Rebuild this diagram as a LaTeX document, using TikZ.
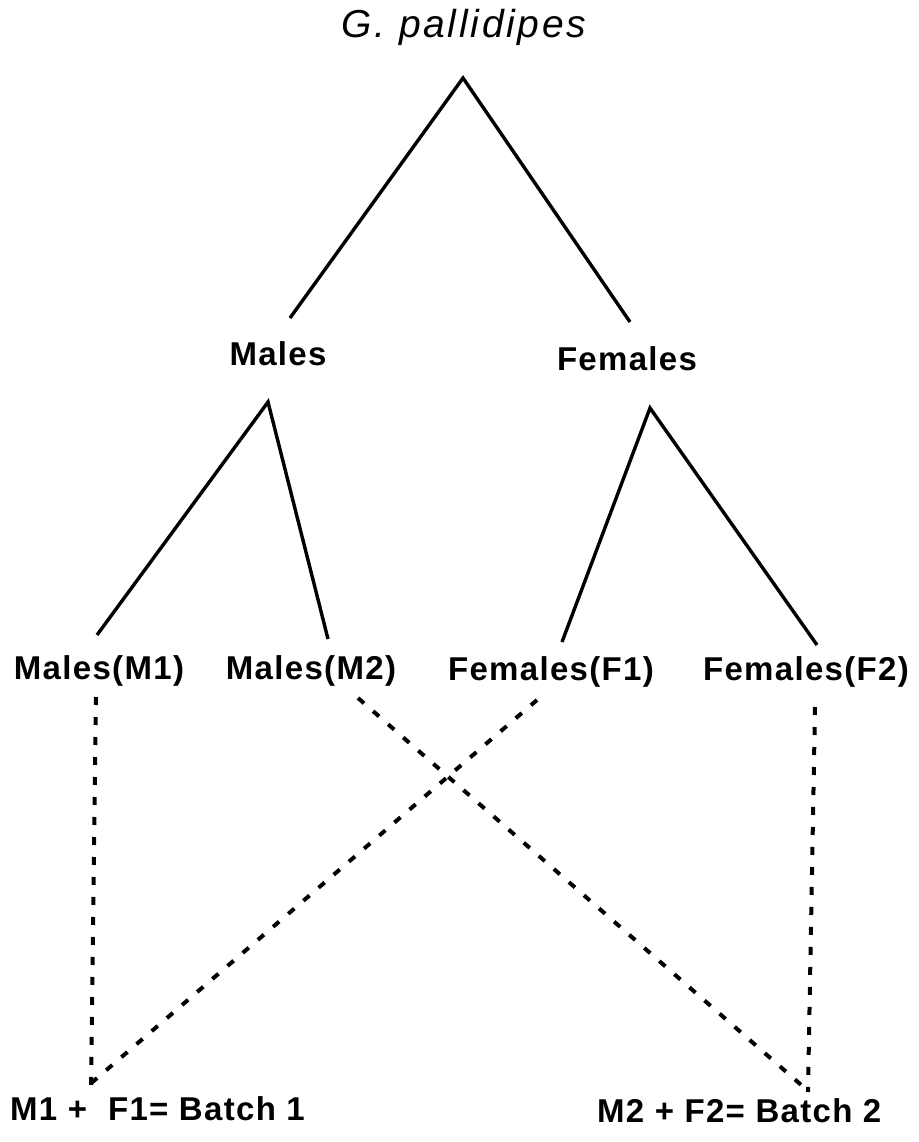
\documentclass[tikz,border=0pt]{standalone}
\usepackage{fontspec}
\setmainfont{Liberation Sans}
\newfontfamily\titlefont[LetterSpace=7]{Liberation Sans}
\newfontfamily\labelfont[LetterSpace=4]{Liberation Sans}
\begin{document}
\begin{tikzpicture}[x=1pt,y=-1pt,
  lbl/.style={inner sep=0pt,anchor=base,font=\labelfont\bfseries\fontsize{33}{38}\selectfont},
  ttl/.style={inner sep=0pt,anchor=base,font=\titlefont\itshape\fontsize{39}{44}\selectfont},
  branch/.style={line width=3.4pt},
  pair/.style={line width=4pt,dash pattern=on 8pt off 12pt}]
\useasboundingbox (0,0) rectangle (918,1142);

% labels
\node[ttl] (title) at (464,38) {G. pallidipes};
\node[lbl] (males) at (278,365) {Males};
\node[lbl] (females) at (627,370) {Females};
\node[lbl] (m1) at (99,679) {Males(M1)};
\node[lbl] (m2) at (311,679) {Males(M2)};
\node[lbl] (f1) at (551,680) {Females(F1)};
\node[lbl] (f2) at (806,680) {Females(F2)};
\node[lbl,anchor=base west] (b1) at (10,1120) {M1 +\ \ F1= Batch 1};
\node[lbl,anchor=base west] (b2) at (597,1122) {M2 + F2= Batch 2};

% branch end points
\coordinate (top) at (463,78);
\coordinate (topL) at (290,318);
\coordinate (topR) at (630,322);
\coordinate (mTop) at (268,402);
\coordinate (mL) at (97,635);
\coordinate (mR) at (328,639);
\coordinate (fTop) at (650,408);
\coordinate (fL) at (562,642);
\coordinate (fR) at (817,645);

% pairing end points
\coordinate (m1a) at (96,697);
\coordinate (m1b) at (91,1086);
\coordinate (m2a) at (358,698);
\coordinate (m2b) at (807,1090);
\coordinate (f1a) at (537,700);
\coordinate (f1b) at (89,1085);
\coordinate (f2a) at (815,707);
\coordinate (f2b) at (808,1092);

% tree
\draw[branch] (topL) -- (top) -- (topR);
\draw[branch] (mL) -- (mTop) -- (mR);
\draw[branch] (fL) -- (fTop) -- (fR);

% crossings into batches
\draw[pair] (m1a) -- (m1b);
\draw[pair] (f1a) -- (f1b);
\draw[pair] (m2a) -- (m2b);
\draw[pair] (f2a) -- (f2b);
\end{tikzpicture}
\end{document}
